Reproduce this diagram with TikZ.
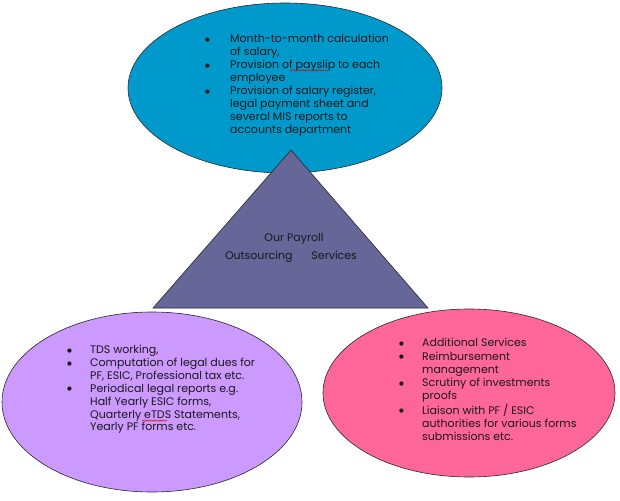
\documentclass[tikz,border=0pt]{standalone}
\usepackage{fontspec}
\setmainfont{Poppins}
\newfontfamily\symfont{DejaVu Sans}
\usetikzlibrary{shapes.geometric,decorations.pathmorphing}
\definecolor{topblue}{RGB}{0,153,204}
\definecolor{trifill}{RGB}{102,102,153}
\definecolor{lilac}{RGB}{204,153,255}
\definecolor{rosepink}{RGB}{255,102,153}
\definecolor{edge}{RGB}{40,40,40}
\tikzset{
  oval/.style={ellipse, draw=edge, line width=0.6pt, inner sep=0pt},
  listtext/.style={anchor=north west, inner sep=0pt, align=left, text=black!90},
  tritext/.style={inner sep=0pt, anchor=base, text=black!90},
  squiggle/.style={draw=red!85!black, line width=0.45pt, decorate, decoration={snake, amplitude=0.7pt, segment length=2.6pt}}
}
\newcommand{\bl}{\raisebox{1.4pt}{\symfont\fontsize{5.5}{6}\selectfont ●}}
\begin{document}
\begin{tikzpicture}[x=1pt,y=-1pt]
\useasboundingbox (0,0) rectangle (620,500);
% top ellipse
\node[oval, fill=topblue, minimum width=314pt, minimum height=170pt] (top) at (285,88) {};
% triangle
\coordinate (apex) at (291,150);
\coordinate (bl) at (153,308);
\coordinate (br) at (428,308);
\draw[fill=trifill, draw=edge, line width=0.6pt, line join=miter] (apex) -- (br) -- (bl) -- cycle;
% bottom ellipses
\node[oval, fill=lilac, minimum width=300pt, minimum height=180pt] (left) at (152,402) {};
\node[oval, fill=rosepink, minimum width=292pt, minimum height=168pt] (right) at (469,393) {};
% texts
\node[listtext] (toptext) at (205,33.2) {\fontsize{11}{13}\selectfont
\begin{tabular}{@{}p{25pt}@{}l@{}}
\bl & Month-to-month calculation\\
    & of salary,\\
\bl & Provision of payslip to each\\
    & employee\\
\bl & Provision of salary register,\\
    & legal payment sheet and\\
    & several MIS reports to\\
    & accounts department
\end{tabular}};
\node[tritext] (t1) at (294,241.7) {\fontsize{11}{13}\selectfont Our Payroll};
\node[tritext] (t2) at (291,259) {\fontsize{11}{13}\selectfont Outsourcing\hspace{19pt}Services};
\node[listtext] (lefttext) at (67,344.3) {\fontsize{11}{12.9}\selectfont
\begin{tabular}{@{}p{23pt}@{}l@{}}
\bl & TDS working,\\
\bl & Computation of legal dues for\\
    & PF, ESIC, Professional tax etc.\\
\bl & Periodical legal reports e.g.\\
    & Half Yearly ESIC forms,\\
    & Quarterly eTDS Statements,\\
    & Yearly PF forms etc.
\end{tabular}};
\node[listtext] (righttext) at (399,337.5) {\fontsize{11}{13.2}\selectfont
\begin{tabular}{@{}p{23pt}@{}l@{}}
\bl & Additional Services\\
\bl & Reimbursement\\
    & management\\
\bl & Scrutiny of investments\\
    & proofs\\
\bl & Liaison with PF / ESIC\\
    & authorities for various forms\\
    & submissions etc.
\end{tabular}};
% spell-check underlines
\coordinate (sq1a) at (290,70.4);
\coordinate (sq1b) at (328,70.4);
\draw[squiggle] (sq1a) -- (sq1b);
\coordinate (sq2a) at (142,420.6);
\coordinate (sq2b) at (167,420.6);
\draw[squiggle] (sq2a) -- (sq2b);
\end{tikzpicture}
\end{document}
